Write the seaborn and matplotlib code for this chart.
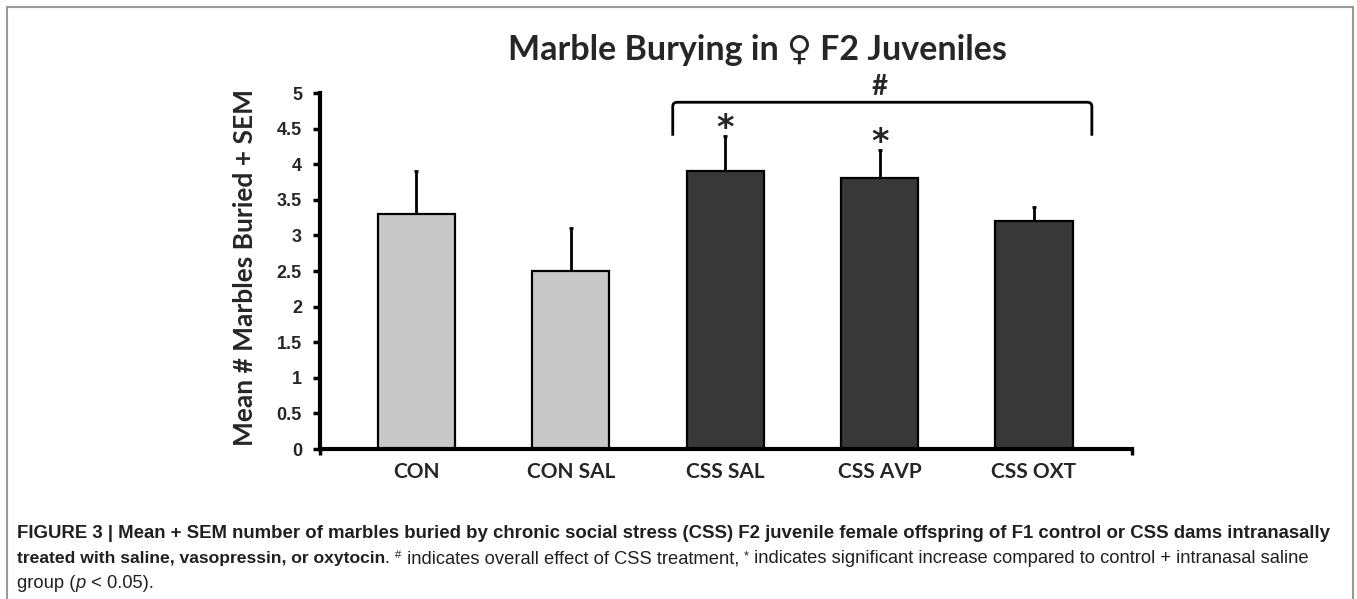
import matplotlib
matplotlib.use("Agg")
import matplotlib.pyplot as plt
import seaborn as sns
import numpy as np
from matplotlib.patches import Rectangle
from matplotlib.path import Path
from matplotlib.patches import PathPatch

# ---- data ----
categories = ["CON", "CON SAL", "CSS SAL", "CSS AVP", "CSS OXT"]
means = [3.3, 2.5, 3.9, 3.8, 3.2]
sems = [0.6, 0.6, 0.5, 0.4, 0.2]
bar_colors = ["#c8c8c8", "#c8c8c8", "#383838", "#383838", "#383838"]
yticks = [0, 0.5, 1, 1.5, 2, 2.5, 3, 3.5, 4, 4.5, 5]
ytick_labels = ["0", "0.5", "1", "1.5", "2", "2.5", "3", "3.5", "4", "4.5", "5"]
star_groups = ["CSS SAL", "CSS AVP"]

sns.set_theme(style="white")
plt.rcParams['font.family'] = ['Lato', 'DejaVu Sans']

W, H = 1357, 599
fig = plt.figure(figsize=(W / 100, H / 100), dpi=100)
ax = fig.add_axes([320 / W, 1 - 449 / H, (1132 - 320) / W, (449 - 93) / H])

sns.barplot(x=categories, y=means, hue=categories, palette=bar_colors, legend=False,
            edgecolor="black", linewidth=1.6, width=0.5, ax=ax, zorder=2)
xpos = np.arange(len(categories))
ax.errorbar(xpos, means, yerr=[np.zeros(len(sems)), sems], fmt="none",
            ecolor="black", elinewidth=2, capsize=1.5, capthick=2, zorder=1)

ax.set_xlim(-0.625, 4.635)
ax.set_ylim(0, 5)
ax.set_yticks(yticks)
ax.set_yticklabels(ytick_labels, family=['Liberation Sans'], fontweight="bold", fontsize=13)
ax.set_xticks(xpos)
ax.set_xticklabels(categories, fontweight="bold", fontsize=15)
ax.tick_params(axis="y", direction="out", length=5, width=2.5, pad=8, left=True, color="black")
ax.tick_params(axis="x", length=0, pad=9)
ax.set_xticks([-0.625, 4.635], minor=True)
ax.tick_params(axis="x", which="minor", direction="out", length=4, width=2.5, bottom=True, color="black")
for s in ["top", "right"]:
    ax.spines[s].set_visible(False)
for s in ["left", "bottom"]:
    ax.spines[s].set_linewidth(3)
    ax.spines[s].set_color("black")
ax.set_xlabel("")
ax.set_ylabel("Mean # Marbles Buried + SEM", fontweight="bold", fontsize=19)
ax.yaxis.set_label_coords(-0.077, 0.51)

# significance annotations
for g in star_groups:
    i = categories.index(g)
    ax.text(i, means[i] + sems[i] - 0.03, "*", ha="center", va="baseline",
            fontsize=24, fontweight="bold", family=['DejaVu Sans'])

x0, x1, ytop, ybot = 1.66, 4.375, 4.87, 4.40
r = 0.03
verts = [(x0, ybot), (x0, ytop - 0.06), (x0, ytop), (x0 + r, ytop),
         (x1 - r, ytop), (x1, ytop), (x1, ytop - 0.06), (x1, ybot)]
codes = [Path.MOVETO, Path.LINETO, Path.CURVE3, Path.CURVE3,
         Path.LINETO, Path.CURVE3, Path.CURVE3, Path.LINETO]
ax.add_patch(PathPatch(Path(verts, codes), fill=False, lw=2, edgecolor="black", clip_on=False))
ax.text(3.0, ytop + 0.03, "#", ha="center", va="bottom", fontsize=20, fontweight="bold", clip_on=False)

# title
fig.text(757 / W, 1 - 50 / H, "Marble Burying in \u2640 F2 Juveniles", ha="center", va="center",
         fontsize=24.5, fontweight="bold")

# frame (bottom edge lies below the image)
fig.patches.append(Rectangle((7 / W, -10 / H), (1353 - 7) / W, (592 + 10) / H,
                             transform=fig.transFigure, fill=False, edgecolor="#999999", lw=1.5))

# caption with mixed styles
fig.canvas.draw()
renderer = fig.canvas.get_renderer()
cap_family = ['Liberation Sans', 'DejaVu Sans']


def runs(line_y, parts, x_start=17):
    x = x_start
    for txt, kw in parts:
        style = dict(fontsize=13.2, family=cap_family, color="#231f20")
        dy = kw.pop("dy", 0) if "dy" in kw else 0
        style.update(kw)
        t = fig.text(x / W, 1 - (line_y - dy) / H, txt, ha="left", va="baseline", **style)
        bb = t.get_window_extent(renderer=renderer)
        x = bb.x1


runs(538, [("FIGURE 3 | Mean + SEM number of marbles buried by chronic social stress (CSS) F2 juvenile "
            "female offspring of F1 control or CSS dams intranasally", {"fontweight": "bold", "fontsize": 13.4})])
runs(563, [("treated with saline, vasopressin, or oxytocin", {"fontweight": "bold", "fontsize": 12.6}),
           (". ", {}),
           ("#", {"fontsize": 8, "dy": 5}), (" indicates overall effect of CSS treatment, ", {}),
           ("*", {"fontsize": 9, "dy": 4}),
           (" indicates significant increase compared to control + intranasal saline", {})])
runs(588, [("group (", {}), ("p", {"style": "italic"}), (" < 0.05).", {})])

fig.savefig("out.png", dpi=100)
